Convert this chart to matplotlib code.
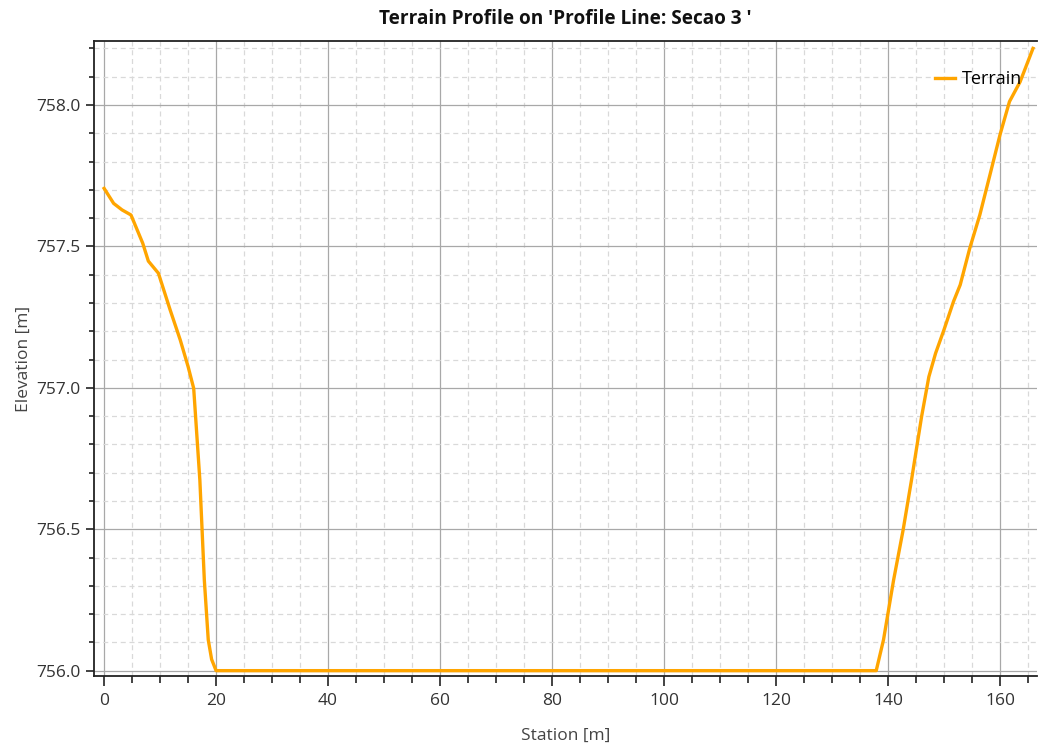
import matplotlib.pyplot as plt
from matplotlib.ticker import MultipleLocator

# terrain profile
station = [0.0, 1.7, 3.2, 4.8, 6.9, 7.9, 9.7, 11.8, 13.6, 15.0, 16.0,
           17.1, 17.9, 18.6, 19.2, 20.0,
           137.9, 139.2, 141.0, 142.7, 144.2, 146.0, 147.3, 148.5, 150.0,
           151.7, 152.9, 154.6, 156.4, 158.2, 160.0, 161.7, 163.6, 165.9]
elevation = [757.705, 757.652, 757.629, 757.611, 757.511, 757.448, 757.405,
             757.275, 757.169, 757.075, 756.998,
             756.674, 756.320, 756.109, 756.040, 756.000,
             756.000, 756.109, 756.320, 756.497, 756.674, 756.898, 757.039,
             757.122, 757.205, 757.305, 757.364, 757.493, 757.611, 757.752,
             757.894, 758.012, 758.082, 758.200]

plt.rcParams['font.family'] = ['Open Sans', 'DejaVu Sans']

fig = plt.figure(figsize=(10.39, 7.46), dpi=100)
ax = fig.add_axes([0.0905, 0.0938, 0.9075, 0.8512])

ax.plot(station, elevation, color='#FFA500', lw=2.4, label='Terrain', zorder=3)

ax.set_xlim(-1.8, 166.6)
ax.set_ylim(755.981, 758.226)

ax.xaxis.set_major_locator(MultipleLocator(20))
ax.xaxis.set_minor_locator(MultipleLocator(5))
ax.yaxis.set_major_locator(MultipleLocator(0.5))
ax.yaxis.set_minor_locator(MultipleLocator(0.1))
ax.yaxis.set_major_formatter(plt.FormatStrFormatter('%.1f'))

ax.grid(which='major', color='#a8a8a8', lw=0.9, ls='-')
ax.grid(which='minor', color='#d9d9d9', lw=0.9, ls=(0, (4, 3)))
ax.set_axisbelow(True)

for s in ['top', 'left', 'bottom']:
    ax.spines[s].set_linewidth(1.3)
    ax.spines[s].set_color('#222222')
ax.spines['right'].set_visible(False)

ax.tick_params(which='both', width=1.2, color='#222222',
               labelsize=12.5, labelcolor='#333333')
ax.tick_params(axis='x', which='major', length=7.5, pad=5)
ax.tick_params(axis='x', which='minor', length=5)
ax.tick_params(axis='y', which='major', length=6, pad=4)
ax.tick_params(axis='y', which='minor', length=3.5)

ax.set_xlabel('Station [m]', fontsize=12.5, color='#444444', labelpad=13)
ax.set_ylabel('Elevation [m]', fontsize=12.5, color='#444444', labelpad=2.5)
ax.set_title("Terrain Profile on 'Profile Line: Secao 3 '", fontsize=13.7,
             fontweight='bold', color='#111111', pad=12)

ax.legend(loc='upper right', frameon=False, fontsize=13, handlelength=1.1,
          handletextpad=0.35, bbox_to_anchor=(0.9915, 0.965), borderaxespad=0)

fig.savefig('out.png', dpi=100)
